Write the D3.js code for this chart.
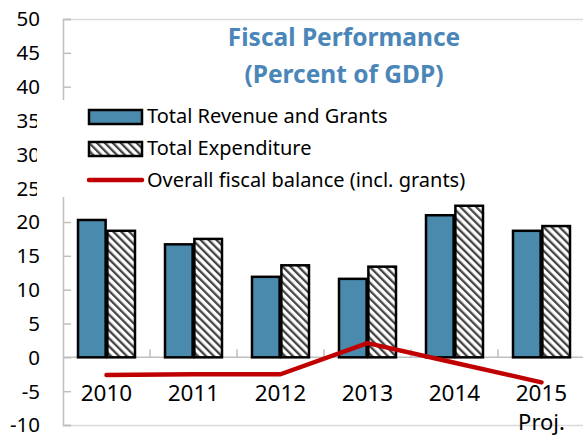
<!DOCTYPE html>
<html>
<head>
<meta charset="utf-8">
<script src="https://cdn.jsdelivr.net/npm/d3@7/dist/d3.min.js"></script>
<style>
  html, body { margin: 0; padding: 0; background: #fff; }
  svg { display: block; font-family: "Noto Sans", "Open Sans", sans-serif; }
</style>
</head>
<body>
<svg id="chart" width="583" height="437"></svg>
<script>
const years = ["2010", "2011", "2012", "2013", "2014", "2015"];
const revenue = [20.3, 16.7, 11.9, 11.6, 21.0, 18.7];
const expenditure = [18.7, 17.5, 13.6, 13.4, 22.4, 19.4];
const balance = [-2.6, -2.5, -2.5, 2.1, -0.8, -3.7];
const yTicks = [-10, -5, 0, 5, 10, 15, 20, 25, 30, 35, 40, 45, 50];
const seriesNames = ["Total Revenue and Grants", "Total Expenditure", "Overall fiscal balance (incl. grants)"];
const titleLines = ["Fiscal Performance", "(Percent of GDP)"];

const svg = d3.select("#chart");
const pL = 63, pR = 585, pT = 19, pB = 425;

const y = d3.scaleLinear().domain([-10, 50]).range([pB, pT]);
const x0 = d3.scaleBand().domain(years).range([pL, pR]).paddingInner(0.345).paddingOuter(0.1725);
const x1 = d3.scaleBand().domain(["rev", "exp"]).range([0, x0.bandwidth()]).paddingInner(0.06);

const defs = svg.append("defs");
const pat = defs.append("pattern").attr("id", "hatch").attr("patternUnits", "userSpaceOnUse")
  .attr("width", 5.6).attr("height", 5.6).attr("patternTransform", "rotate(-45)");
pat.append("rect").attr("width", 5.6).attr("height", 5.6).attr("fill", "#fff");
pat.append("rect").attr("x", 0).attr("y", 0).attr("width", 2.3).attr("height", 5.6).attr("fill", "#444");

const barFill = "#4a8aad";
const lineColor = "#c00000";
const axisColor = "#bfbfbf";

// plot frame lines
svg.append("line").attr("x1", pL).attr("x2", 583).attr("y1", pT + 0.5).attr("y2", pT + 0.5)
  .attr("stroke", "#d9d9d9").attr("stroke-width", 1.5);
svg.append("line").attr("x1", pL).attr("x2", 583).attr("y1", pB + 0.5).attr("y2", pB + 0.5)
  .attr("stroke", "#d9d9d9").attr("stroke-width", 1.5);

// y axis
const yAxis = d3.axisRight(y).tickValues(yTicks).tickSize(8).tickFormat("");
const gy = svg.append("g").attr("transform", `translate(${pL},0)`).call(yAxis);
gy.select(".domain").attr("stroke", axisColor).attr("stroke-width", 1.5);
gy.selectAll(".tick line").attr("stroke", axisColor).attr("stroke-width", 1.5);

// y labels
svg.append("g").selectAll("text").data(yTicks).join("text")
  .attr("x", 40).attr("y", d => y(d)).attr("dy", "0.36em")
  .attr("text-anchor", "end").attr("font-size", 20.5).attr("fill", "#000")
  .text(d => d);

// x axis at zero
svg.append("line").attr("x1", pL).attr("x2", 583).attr("y1", y(0)).attr("y2", y(0))
  .attr("stroke", axisColor).attr("stroke-width", 1.5);
const step = x0.step();
svg.append("g").selectAll("line").data(years.slice(1)).join("line")
  .attr("x1", d => x0(d) - x0.paddingInner() * step / 2 ).attr("x2", d => x0(d) - x0.paddingInner() * step / 2)
  .attr("y1", y(0)).attr("y2", y(0) - 8).attr("stroke", axisColor).attr("stroke-width", 1.5);

// bars
const groups = svg.append("g").selectAll("g").data(years).join("g")
  .attr("transform", d => `translate(${x0(d)},0)`);
groups.append("rect")
  .attr("x", x1("rev")).attr("width", x1.bandwidth())
  .attr("y", (d, i) => y(revenue[i])).attr("height", (d, i) => y(0) - y(revenue[i]))
  .attr("fill", barFill).attr("stroke", "#000").attr("stroke-width", 2.5);
groups.append("rect")
  .attr("x", x1("exp")).attr("width", x1.bandwidth())
  .attr("y", (d, i) => y(expenditure[i])).attr("height", (d, i) => y(0) - y(expenditure[i]))
  .attr("fill", "url(#hatch)").attr("stroke", "#000").attr("stroke-width", 2.5);

// balance line
const line = d3.line().x((d, i) => x0(years[i]) + x0.bandwidth() / 2).y(d => y(d));
svg.append("path").datum(balance).attr("d", line)
  .attr("fill", "none").attr("stroke", lineColor).attr("stroke-width", 4.5).attr("stroke-linejoin", "round").attr("stroke-linecap", "round");

// x labels
svg.append("g").selectAll("text").data(years).join("text")
  .attr("x", d => x0(d) + x0.bandwidth() / 2).attr("y", 401)
  .attr("text-anchor", "middle").attr("font-size", 22.5).attr("fill", "#000")
  .text(d => d);
svg.append("text").attr("x", x0("2015") + x0.bandwidth() / 2).attr("y", 430)
  .attr("text-anchor", "middle").attr("font-size", 22).attr("fill", "#000").text("Proj.");

// legend background
svg.append("rect").attr("x", 37).attr("y", 100).attr("width", 440).attr("height", 97).attr("fill", "#fff");
const lx = 89, lw = 53;
svg.append("rect").attr("x", lx).attr("y", 110).attr("width", lw).attr("height", 14)
  .attr("fill", barFill).attr("stroke", "#000").attr("stroke-width", 2.5);
svg.append("rect").attr("x", lx).attr("y", 142).attr("width", lw).attr("height", 14)
  .attr("fill", "url(#hatch)").attr("stroke", "#000").attr("stroke-width", 2.5);
svg.append("line").attr("x1", lx).attr("x2", lx + lw).attr("y1", 180).attr("y2", 180)
  .attr("stroke", lineColor).attr("stroke-width", 4.5).attr("stroke-linecap", "round");
const legY = [123, 155, 187];
svg.append("g").selectAll("text").data(seriesNames).join("text")
  .attr("x", 147).attr("y", (d, i) => legY[i]).attr("font-size", 20).attr("fill", "#000")
  .text(d => d);

// title
svg.append("g").selectAll("text").data(titleLines).join("text")
  .attr("x", 344).attr("y", (d, i) => 46 + i * 37)
  .attr("text-anchor", "middle").attr("font-size", 24.5).attr("font-weight", "bold").attr("fill", "#4a86b8")
  .text(d => d);
</script>
</body>
</html>
